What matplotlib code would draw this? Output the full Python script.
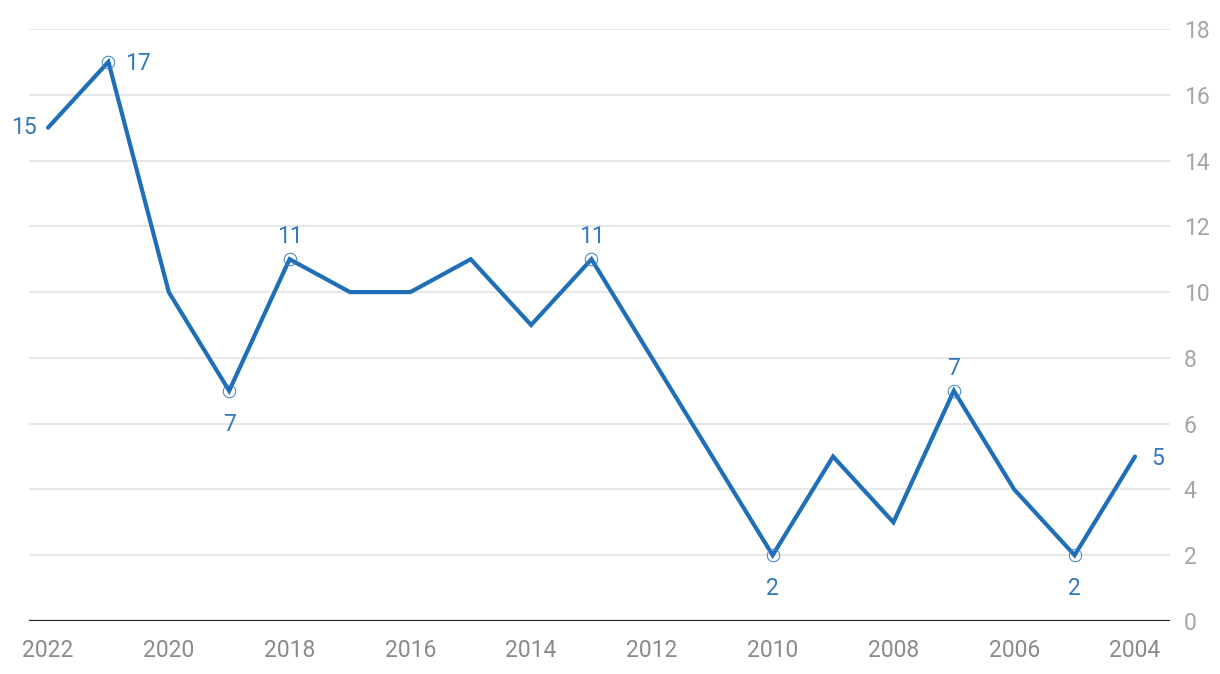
import matplotlib
matplotlib.use("Agg")
import matplotlib.pyplot as plt

years = [2022, 2021, 2020, 2019, 2018, 2017, 2016, 2015, 2014, 2013,
         2012, 2011, 2010, 2009, 2008, 2007, 2006, 2005, 2004]
values = [15, 17, 10, 7, 11, 10, 10, 11, 9, 11, 8, 5, 2, 5, 3, 7, 4, 2, 5]
marker_years = [2021, 2019, 2018, 2013, 2010, 2007, 2005]
# (year, position)
label_specs = [(2022, "left"), (2021, "right"), (2019, "below"), (2018, "above"),
               (2013, "above"), (2010, "below"), (2007, "above"), (2005, "below"),
               (2004, "right")]
xticks = [2022, 2020, 2018, 2016, 2014, 2012, 2010, 2008, 2006, 2004]
yticks = [0, 2, 4, 6, 8, 10, 12, 14, 16, 18]

plt.rcParams['font.family'] = ['Roboto', 'DejaVu Sans']
LINE = "#1f6fb8"
LAB = "#3478bd"
FS = 16.5

fig = plt.figure(figsize=(12.2, 6.74), dpi=100)
ax = fig.add_axes([29/1220, (674-621)/674, (1170-29)/1220, (621-29)/674])
ax.set_xlim(2022.315, 2003.42)
ax.set_ylim(0, 18)

for y in yticks[1:]:
    ax.axhline(y, color="#e3e3e3", lw=1.2, zorder=0)
ax.axhline(0, color="#222222", lw=1.6, zorder=1)

ax.plot(years, values, color=LINE, lw=3, solid_capstyle="round",
        solid_joinstyle="miter", zorder=3)
mv = [values[years.index(y)] for y in marker_years]
ax.plot(marker_years, mv, ls="none", marker="o", ms=9, mfc="none",
        mec="#3a7fc4", mew=0.7, zorder=4)

for yr, pos in label_specs:
    v = values[years.index(yr)]
    kw = dict(textcoords="offset points", color=LAB, fontsize=FS, fontweight="normal")
    if pos == "left":
        ax.annotate(str(v), (yr, v), xytext=(-8, 0), ha="right", va="center", **kw)
    elif pos == "right":
        ax.annotate(str(v), (yr, v), xytext=(12, -1.5), ha="left", va="center", **kw)
    elif pos == "above":
        ax.annotate(str(v), (yr, v), xytext=(0, 8), ha="center", va="bottom", **kw)
    else:
        ax.annotate(str(v), (yr, v), xytext=(0, -16), ha="center", va="top", **kw)

for s in ax.spines.values():
    s.set_visible(False)
ax.set_xticks(xticks)
ax.set_xticklabels([str(x) for x in xticks])
ax.set_yticks(yticks)
ax.yaxis.tick_right()
ax.tick_params(axis="both", length=0, labelsize=FS, labelcolor="#8a8a8a")
ax.tick_params(axis="x", pad=13)
ax.tick_params(axis="y", pad=10, labelcolor="#a5a5a5")

fig.savefig("out.png", dpi=100, facecolor="white")
